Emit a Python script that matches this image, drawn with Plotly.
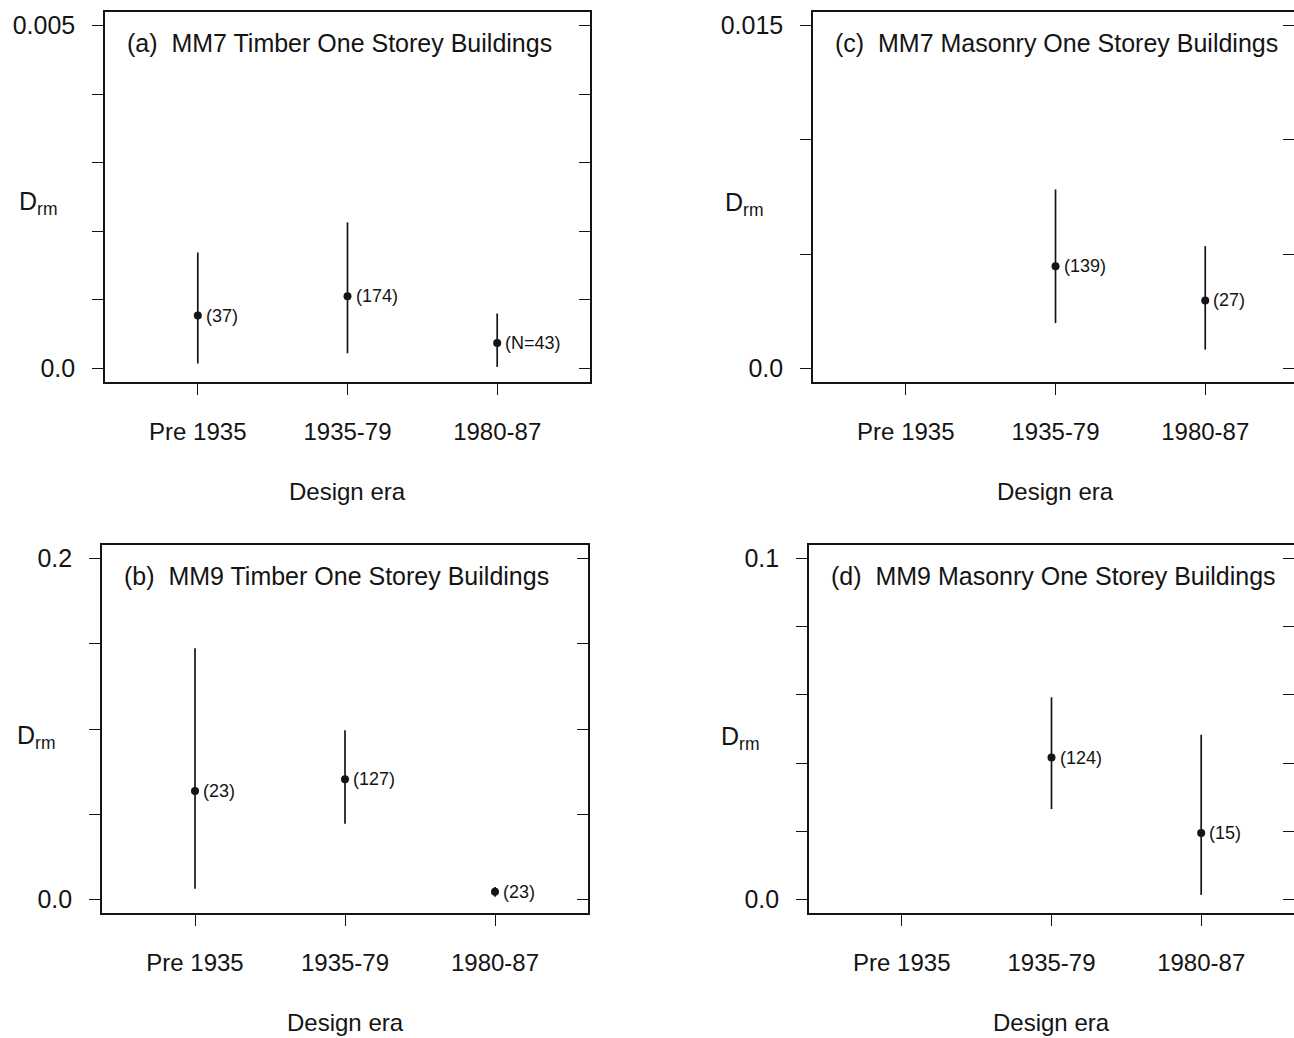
import plotly.graph_objects as go

# Design eras on the x axis
eras = ["Pre 1935", "1935-79", "1980-87"]
era_pos = [1, 2, 3]

# (a) MM7 timber one storey buildings: mean damage ratio with interval
a_mean = [0.00077, 0.00105, 0.00037]
a_upper = [0.00169, 0.00213, 0.00080]
a_lower = [0.00007, 0.00022, 0.00002]
a_count = ["(37)", "(174)", "(N=43)"]

# (b) MM9 timber one storey buildings
b_mean = [0.0636, 0.0705, 0.0045]
b_upper = [0.1474, 0.0992, 0.0072]
b_lower = [0.0062, 0.0444, 0.0015]
b_count = ["(23)", "(127)", "(23)"]

# (c) MM7 masonry one storey buildings (no pre-1935 data)
c_mean = [None, 0.00447, 0.00297]
c_upper = [None, 0.00783, 0.00535]
c_lower = [None, 0.00198, 0.00082]
c_count = [None, "(139)", "(27)"]

# (d) MM9 masonry one storey buildings (no pre-1935 data)
d_mean = [None, 0.0416, 0.0195]
d_upper = [None, 0.0593, 0.0483]
d_lower = [None, 0.0265, 0.0013]
d_count = [None, "(124)", "(15)"]

# y-axis: labelled ticks and the unlabelled ticks between them
a_major = [0, 0.005]
a_major_text = ["0.0", "0.005"]
a_minor = [0.001, 0.002, 0.003, 0.004]
b_major = [0, 0.2]
b_major_text = ["0.0", "0.2"]
b_minor = [0.05, 0.10, 0.15]
c_major = [0, 0.015]
c_major_text = ["0.0", "0.015"]
c_minor = [0.005, 0.010]
d_major = [0, 0.1]
d_major_text = ["0.0", "0.1"]
d_minor = [0.02, 0.04, 0.06, 0.08]

titles = [
    "(a)  MM7 Timber One Storey Buildings",
    "(b)  MM9 Timber One Storey Buildings",
    "(c)  MM7 Masonry One Storey Buildings",
    "(d)  MM9 Masonry One Storey Buildings",
]

W, H = 1294, 1038
FONT = "Liberation Sans, Arial, Helvetica, sans-serif"
INK = "#141414"
TICKLEN = 11

panels = [
    # suffix, mean, upper, lower, counts, major ticks, labels, minor ticks, ymax,
    # x-domain px, y-domain px, x-range, right border
    ("", a_mean, a_upper, a_lower, a_count, a_major, a_major_text, a_minor, 0.005,
     (105, 590), (12, 382), (0.38, 3.62), True),
    ("2", b_mean, b_upper, b_lower, b_count, b_major, b_major_text, b_minor, 0.2,
     (102, 588), (545, 913), (0.38, 3.62), True),
    ("3", c_mean, c_upper, c_lower, c_count, c_major, c_major_text, c_minor, 0.015,
     (813, 1294), (12, 382), (0.38, 3.593), False),
    ("4", d_mean, d_upper, d_lower, d_count, d_major, d_major_text, d_minor, 0.1,
     (809, 1294), (545, 913), (0.38, 3.62), False),
]

fig = go.Figure()
annotations = []
layout = {}

for i, (sfx, mean, upper, lower, counts, major, major_text, minor, ymax,
        xdom, ydom, xrng, right_border) in enumerate(panels):
    xs, ys, ep, em, cnt = [], [], [], [], []
    for p, m, u, l, c in zip(era_pos, mean, upper, lower, counts):
        if m is None:
            continue
        xs.append(p)
        ys.append(m)
        ep.append(u - m)
        em.append(m - l)
        cnt.append(c)

    xa = "x" + sfx
    ya = "y" + sfx
    yr_name = "y" + str(5 + i)
    fig.add_trace(go.Scatter(
        x=xs, y=ys, mode="markers",
        marker=dict(size=8, color=INK),
        error_y=dict(type="data", symmetric=False, array=ep, arrayminus=em,
                     width=0, thickness=1.7, color=INK),
        xaxis=xa, yaxis=ya, showlegend=False, hoverinfo="skip",
    ))
    # empty trace so the right-hand tick axis is drawn
    fig.add_trace(go.Scatter(
        x=[None], y=[None], mode="markers", xaxis=xa, yaxis=yr_name,
        showlegend=False, hoverinfo="skip",
    ))
    for xv, yv, c in zip(xs, ys, cnt):
        annotations.append(dict(
            x=xv, y=yv, xref=xa, yref=ya, text=c, showarrow=False,
            xanchor="left", yanchor="middle", xshift=6,
            font=dict(family=FONT, size=18, color=INK)))

    yr = (-0.04 * ymax, 1.04 * ymax)
    xdomain = [xdom[0] / W, xdom[1] / W]
    ydomain = [1 - ydom[1] / H, 1 - ydom[0] / H]

    layout["xaxis" + sfx] = dict(
        domain=xdomain, anchor=ya, range=list(xrng),
        tickmode="array", tickvals=era_pos, ticktext=eras,
        ticks="outside", ticklen=TICKLEN, tickwidth=1.3, tickcolor=INK,
        ticklabelstandoff=16,
        showline=True, linecolor=INK, linewidth=1.6, mirror=True,
        showgrid=False, zeroline=False,
        tickfont=dict(family=FONT, size=24, color=INK),
    )
    layout["yaxis" + sfx] = dict(
        domain=ydomain, anchor=xa, range=list(yr),
        tickmode="array", tickvals=major, ticktext=major_text,
        ticks="outside", ticklen=TICKLEN, tickwidth=1.3, tickcolor=INK,
        minor=dict(tickmode="array", tickvals=minor, ticks="outside",
                   ticklen=TICKLEN, tickwidth=1.3, tickcolor=INK, showgrid=False),
        ticklabelstandoff=12,
        showline=True, linecolor=INK, linewidth=1.6, mirror=right_border,
        showgrid=False, zeroline=False,
        tickfont=dict(family=FONT, size=25, color=INK),
    )
    # inward ticks along the right-hand side of each panel
    layout["yaxis" + str(5 + i)] = dict(
        overlaying=ya, anchor=xa, side="right", range=list(yr),
        tickmode="array", tickvals=major, showticklabels=False,
        ticks="inside", ticklen=TICKLEN, tickwidth=1.3, tickcolor=INK,
        minor=dict(tickmode="array", tickvals=minor, ticks="inside",
                   ticklen=TICKLEN, tickwidth=1.3, tickcolor=INK, showgrid=False),
        showline=False, showgrid=False, zeroline=False,
    )

    # panel title
    annotations.append(dict(
        x=20 / (xdom[1] - xdom[0]) if right_border else 20 / 485,
        y=1 - 31 / (ydom[1] - ydom[0]),
        xref=xa + " domain", yref=ya + " domain",
        text=titles[i], showarrow=False, xanchor="left", yanchor="middle",
        font=dict(family=FONT, size=25, color=INK)))

    # x-axis title
    annotations.append(dict(
        x=2, y=1 - (ydom[1] + 109) / H, xref=xa, yref="paper",
        text="Design era", showarrow=False, xanchor="center", yanchor="middle",
        font=dict(family=FONT, size=24, color=INK)))

# y-axis titles
for xpx, ypx in [(17, 203), (15, 737), (723, 204), (719, 738)]:
    annotations.append(dict(
        x=xpx / W, y=1 - ypx / H, xref="paper", yref="paper",
        text="D<sub>rm</sub>", showarrow=False, xanchor="left", yanchor="middle",
        font=dict(family=FONT, size=25, color=INK)))

fig.update_layout(
    width=W, height=H,
    margin=dict(l=0, r=0, t=0, b=0),
    paper_bgcolor="white", plot_bgcolor="white",
    annotations=annotations,
    **layout,
)

fig.write_html("out.html")
